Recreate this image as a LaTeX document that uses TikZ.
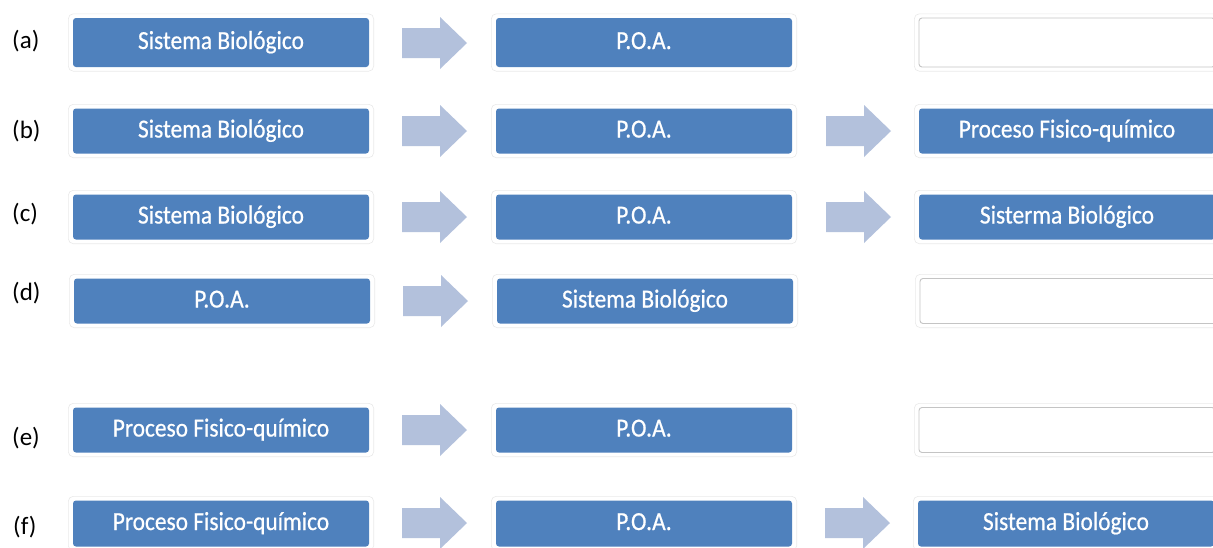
\documentclass[tikz,border=0pt]{standalone}
\usepackage{fontspec}
\setmainfont{Carlito}
\newfontfamily\boxfont[FakeStretch=0.9,FakeBold=0.6]{Carlito}
\definecolor{boxblue}{HTML}{4F81BD}
\definecolor{arrowc}{HTML}{B3C1DC}
\definecolor{framec}{HTML}{EAEAEA}
\definecolor{emptyc}{HTML}{C4C4C4}
\tikzset{
  x=1pt, y=-1pt,
  bluebox/.style={rectangle, rounded corners=3pt, fill=boxblue, minimum width=296pt,
    minimum height=#1, inner sep=0pt, text=white, font=\boxfont\fontsize{26}{30}\selectfont,
    text height=17pt, text depth=4pt},
  bluebox/.default=45pt,
  emptybox/.style={rectangle, rounded corners=3pt, fill=white, draw=emptyc, line width=0.9pt,
    minimum width=296pt, minimum height=#1, inner sep=0pt},
  emptybox/.default=45pt,
  framestyle/.style={draw=framec, line width=0.6pt, fill=white, rounded corners=5pt},
  lbl/.style={anchor=base west, inner sep=0pt, font=\fontsize{25}{29}\selectfont},
  arrowstyle/.style={fill=arrowc}
}
\newcommand\frm[1]{\draw[framestyle] ([xshift=-4.5pt,yshift=4pt]#1.north west) rectangle ([xshift=4.5pt,yshift=-4pt]#1.south east);}
\newcommand\blkarrow[3]{\coordinate (#1) at (#2,#3);
  \path[arrowstyle] (#1) ++(0,-15) -- ++(38,0) -- ++(0,-11) -- ++(27,26) -- ++(-27,26) -- ++(0,-11) -- ++(-38,0) -- cycle;}
\begin{document}
\begin{tikzpicture}
\useasboundingbox (0,0) rectangle (1213,547);
\fill[white] (0,0) rectangle (1213,547);
\clip (0,0) rectangle (1213,547);

% labels
\node[lbl] (la) at (12,48) {(a)};
\node[lbl] (lb) at (12,138.5) {(b)};
\node[lbl] (lc) at (12,221.5) {(c)};
\node[lbl] (ld) at (12,300) {(d)};
\node[lbl] (le) at (12,445.5) {(e)};
\node[lbl] (lf) at (13,534) {(f)};

% row a
\path (221,42.5) node[bluebox=49pt, fill=none] (a1f) {};
\path (644,42.5) node[bluebox=49pt, fill=none] (a2f) {};
\path (1067,42.5) node[bluebox=49pt, fill=none] (a3f) {};
\frm{a1f}\frm{a2f}\frm{a3f}
\node[bluebox=49pt] (a1) at (221,42.5) {Sistema Biológico};
\node[bluebox=49pt] (a2) at (644,42.5) {P.O.A.};
\node[emptybox=49pt] (a3) at (1067,42.5) {};
\blkarrow{aa1}{402}{43}

% row b
\path (221,131) node[bluebox, fill=none] (b1f) {};
\path (644,131) node[bluebox, fill=none] (b2f) {};
\path (1067,131) node[bluebox, fill=none] (b3f) {};
\frm{b1f}\frm{b2f}\frm{b3f}
\node[bluebox] (b1) at (221,131) {Sistema Biológico};
\node[bluebox] (b2) at (644,131) {P.O.A.};
\node[bluebox] (b3) at (1067,131) {Proceso Fisico-químico};
\blkarrow{ba1}{402}{131}
\blkarrow{ba2}{826}{131}

% row c
\path (221,217) node[bluebox, fill=none] (c1f) {};
\path (644,217) node[bluebox, fill=none] (c2f) {};
\path (1067,217) node[bluebox, fill=none] (c3f) {};
\frm{c1f}\frm{c2f}\frm{c3f}
\node[bluebox] (c1) at (221,217) {Sistema Biológico};
\node[bluebox] (c2) at (644,217) {P.O.A.};
\node[bluebox] (c3) at (1067,217) {Sisterma Biológico};
\blkarrow{ca1}{402}{217}
\blkarrow{ca2}{826}{217}

% row d
\path (222,301) node[bluebox, fill=none] (d1f) {};
\path (645,301) node[bluebox, fill=none] (d2f) {};
\path (1068,301) node[bluebox, fill=none] (d3f) {};
\frm{d1f}\frm{d2f}\frm{d3f}
\node[bluebox] (d1) at (222,301) {P.O.A.};
\node[bluebox] (d2) at (645,301) {Sistema Biológico};
\node[emptybox] (d3) at (1068,301) {};
\blkarrow{da1}{403}{301}

% row e
\path (221,430) node[bluebox, fill=none] (e1f) {};
\path (644,430) node[bluebox, fill=none] (e2f) {};
\path (1067,430) node[bluebox, fill=none] (e3f) {};
\frm{e1f}\frm{e2f}\frm{e3f}
\node[bluebox] (e1) at (221,430) {Proceso Fisico-químico};
\node[bluebox] (e2) at (644,430) {P.O.A.};
\node[emptybox] (e3) at (1067,430) {};
\blkarrow{ea1}{402}{430}

% row f
\path (221,523.5) node[bluebox=46pt, fill=none] (f1f) {};
\path (644,523.5) node[bluebox=46pt, fill=none] (f2f) {};
\path (1066,523.5) node[bluebox=46pt, fill=none] (f3f) {};
\frm{f1f}\frm{f2f}\frm{f3f}
\node[bluebox=46pt] (f1) at (221,523.5) {Proceso Fisico-químico};
\node[bluebox=46pt] (f2) at (644,523.5) {P.O.A.};
\node[bluebox=46pt] (f3) at (1066,523.5) {Sistema Biológico};
\blkarrow{fa1}{402}{523}
\blkarrow{fa2}{825}{523}
\end{tikzpicture}
\end{document}
